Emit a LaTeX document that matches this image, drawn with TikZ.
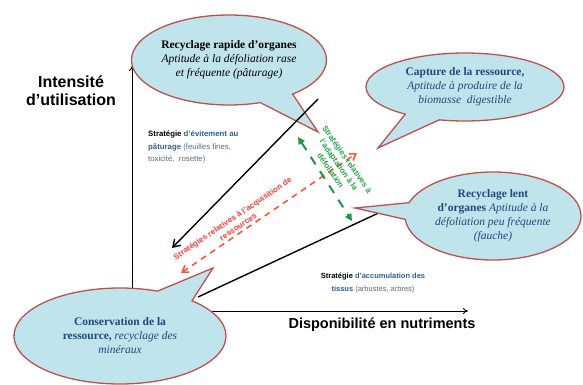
\documentclass[tikz,border=0pt]{standalone}
\usepackage{fontspec}
\setmainfont{Liberation Serif}
\setsansfont{Liberation Sans}
\usetikzlibrary{shapes.callouts,arrows.meta}
\definecolor{cfill}{RGB}{192,228,236}
\definecolor{cdraw}{RGB}{192,80,77}
\definecolor{dblue}{RGB}{31,73,125}
\definecolor{sblue}{RGB}{47,95,150}
\definecolor{sgray}{RGB}{95,108,125}
\definecolor{rred}{RGB}{255,85,55}
\definecolor{rtext}{RGB}{255,60,60}
\definecolor{ggreen}{RGB}{30,150,70}
\definecolor{gtext}{RGB}{40,165,75}
\begin{document}
\begin{tikzpicture}[x=1pt,y=-1pt,
  bubble/.style={ellipse callout, draw=cdraw, fill=cfill, line width=1.3pt, inner sep=0pt,
    align=center, callout pointer arc=22, font=\fontsize{11.5}{14}\selectfont},
  axisline/.style={line width=0.9pt, -{To[length=5pt,width=6pt]}},
  blk/.style={line width=1.4pt},
  redarrow/.style={draw=rred, line width=1.6pt, dash pattern=on 6pt off 5pt,
    {Straight Barb[length=6pt,width=8pt]}-{Straight Barb[length=6pt,width=8pt]}},
  greenarrow/.style={draw=ggreen, line width=2pt, dash pattern=on 9pt off 8pt,
    {Triangle[length=7pt,width=7pt]}-{Triangle[length=7pt,width=7pt]}},
  redlabel/.style={text=rtext, font=\sffamily\bfseries\fontsize{8}{10}\selectfont, inner sep=0pt},
  greenlabel/.style={text=gtext, font=\sffamily\bfseries\fontsize{8}{10}\selectfont, inner sep=0pt, align=center},
  axislabel/.style={font=\sffamily\bfseries\fontsize{14.5}{17}\selectfont, inner sep=0pt},
  strat/.style={font=\sffamily\fontsize{7.8}{12.5}\selectfont, inner sep=0pt}
]
\useasboundingbox (0,0) rectangle (583,385);
\fill[white] (0,0) rectangle (583,385);
% axes
\coordinate (O) at (132,311);
\coordinate (Ytop) at (132,66);
\coordinate (Xend) at (468,311);
\draw[axisline] (O) -- (Ytop);
\draw[axisline] (O) -- (Xend);
% lower black line
\coordinate (L2a) at (198,297);
\coordinate (L2b) at (385,210);
\draw[blk] (L2a) -- (L2b);
% callouts
\node[bubble, minimum width=195pt, minimum height=90pt, callout absolute pointer={(318,132)}] (c1) at (229,60)
  {\textbf{Recyclage rapide d’organes}\\\textit{Aptitude à la défoliation rase}\\\textit{et fréquente (pâturage)}};
\node[bubble, text=dblue, minimum width=198pt, minimum height=68pt, callout absolute pointer={(378,148)}] (c2) at (465,87)
  {\textbf{Capture de la ressource,}\\\textit{Aptitude à produire de la}\\\textit{biomasse\ \ digestible}};
\node[bubble, text=dblue, minimum width=176pt, minimum height=88pt, callout absolute pointer={(355,208)}] (c3) at (493,216)
  {\textbf{Recyclage lent}\\\textbf{d’organes} \textit{Aptitude à la}\\\textit{défoliation peu fréquente}\\\textit{(fauche)}};
\node[bubble, text=dblue, minimum width=212pt, minimum height=96pt, callout absolute pointer={(213,268)}] (c4) at (120,336)
  {\textbf{Conservation de la}\\\textbf{ressource,} \textit{recyclage des}\\\textit{minéraux}};
% upper black line
\coordinate (L1a) at (318,99);
\coordinate (L1b) at (172,248);
\draw[blk, -{Straight Barb[length=7pt,width=9pt]}] (L1a) -- (L1b);
% red and green dashed arrows
\coordinate (R1) at (181,273);
\coordinate (R2) at (357,153);
\draw[redarrow] (R1) -- (R2);
\coordinate (G1) at (298,137);
\coordinate (G2) at (352,221);
\draw[greenarrow] (G1) -- (G2);
% labels
\node[redlabel, rotate=34] (rt1) at (233,219) {Stratégies relatives à l’acquisition de};
\node[redlabel, rotate=34] (rt2) at (238.5,227.5) {ressources};
\node[greenlabel, rotate=-55] (gt) at (339,165) {Stratégies relatives à\\l’adaptation à la\\défoliation};
\node[axislabel, align=center, font=\sffamily\bfseries\fontsize{16}{18}\selectfont] (ylab) at (71,91) {Intensité\\d’utilisation};
\node[axislabel, anchor=base] (xlab) at (382,328) {Disponibilité en nutriments};
\node[strat, anchor=north west, align=left] (sA) at (148,131)
  {\textbf{Stratégie} \textcolor{sblue}{\textbf{d’évitement au}}\\\textcolor{sblue}{\textbf{pâturage}} \textcolor{sgray}{(feuilles fines,}\\\textcolor{sgray}{toxicité,\ \ rosette)}};
\node[strat, font=\sffamily\fontsize{7.5}{12.5}\selectfont, align=center] (sB) at (373,283)
  {\textbf{Stratégie} \textcolor{sblue}{\textbf{d’accumulation des}}\\\textcolor{sblue}{\textbf{tissus}} \textcolor{sgray}{(arbustes, arbres)}};
\end{tikzpicture}
\end{document}
